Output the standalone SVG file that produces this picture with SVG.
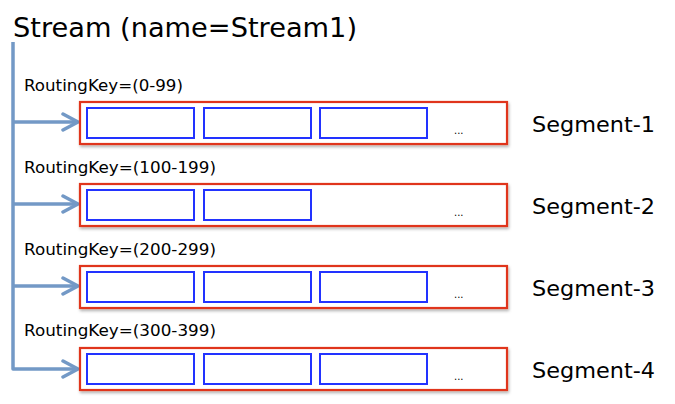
<svg xmlns="http://www.w3.org/2000/svg" width="675" height="404" viewBox="0 0 675 404">
<defs>
<filter id="sh" x="-5%" y="-20%" width="110%" height="150%">
<feDropShadow dx="1" dy="2" stdDeviation="1.5" flood-color="#000" flood-opacity="0.3"/>
</filter>
<marker id="ah" markerUnits="userSpaceOnUse" markerWidth="20" markerHeight="20" refX="17" refY="10" orient="auto" viewBox="0 0 20 20">
<polyline points="2,2 17,10 2,18" fill="none" stroke="#7399c6" stroke-width="3.5" stroke-linecap="round" stroke-linejoin="round"/>
</marker>
</defs>
<style>
.seg{fill:#fff;stroke:#e0341a;stroke-width:2.2}
.blk{fill:#fff;stroke:#2233ff;stroke-width:2}
.t{font-family:"DejaVu Sans","Liberation Sans",sans-serif;fill:#000}
.rk{font-size:15px}
.sl{font-size:22px}
.dots{font-size:10px}
.c{fill:none;stroke:#7399c6;stroke-width:3.5;stroke-linejoin:round}
</style>
<rect width="675" height="404" fill="#fff"/>
<g id="title"><text class="t" x="13" y="37" font-size="27" textLength="344" lengthAdjust="spacingAndGlyphs">Stream (name=Stream1)</text></g>
<g id="connectors">
<path class="c" d="M13,42 V369 H78" marker-end="url(#ah)"/>
<path class="c" d="M13,122 H78" marker-end="url(#ah)"/>
<path class="c" d="M13,204 H78" marker-end="url(#ah)"/>
<path class="c" d="M13,286 H78" marker-end="url(#ah)"/>
</g>
<g id="segment1">
<text class="t rk" x="24" y="91" textLength="159" lengthAdjust="spacingAndGlyphs">RoutingKey=(0-99)</text>
<rect class="seg" x="80" y="102" width="427" height="42" filter="url(#sh)"/>
<rect class="blk" x="87" y="108" width="107" height="30"/>
<rect class="blk" x="204" y="108" width="107" height="30"/>
<rect class="blk" x="320" y="108" width="107" height="30"/>
<text class="t dots" x="454" y="134">...</text>
<text class="t sl" x="532" y="132" textLength="123" lengthAdjust="spacingAndGlyphs">Segment-1</text>
</g>
<g id="segment2">
<text class="t rk" x="24" y="173" textLength="192" lengthAdjust="spacingAndGlyphs">RoutingKey=(100-199)</text>
<rect class="seg" x="80" y="184" width="427" height="42" filter="url(#sh)"/>
<rect class="blk" x="87" y="190" width="107" height="30"/>
<rect class="blk" x="204" y="190" width="107" height="30"/>
<text class="t dots" x="454" y="216">...</text>
<text class="t sl" x="532" y="214" textLength="123" lengthAdjust="spacingAndGlyphs">Segment-2</text>
</g>
<g id="segment3">
<text class="t rk" x="24" y="255" textLength="192" lengthAdjust="spacingAndGlyphs">RoutingKey=(200-299)</text>
<rect class="seg" x="80" y="266" width="427" height="42" filter="url(#sh)"/>
<rect class="blk" x="87" y="272" width="107" height="30"/>
<rect class="blk" x="204" y="272" width="107" height="30"/>
<rect class="blk" x="320" y="272" width="107" height="30"/>
<text class="t dots" x="454" y="298">...</text>
<text class="t sl" x="532" y="296" textLength="123" lengthAdjust="spacingAndGlyphs">Segment-3</text>
</g>
<g id="segment4">
<text class="t rk" x="24" y="336" textLength="192" lengthAdjust="spacingAndGlyphs">RoutingKey=(300-399)</text>
<rect class="seg" x="80" y="348" width="427" height="42" filter="url(#sh)"/>
<rect class="blk" x="87" y="354" width="107" height="30"/>
<rect class="blk" x="204" y="354" width="107" height="30"/>
<rect class="blk" x="320" y="354" width="107" height="30"/>
<text class="t dots" x="454" y="380">...</text>
<text class="t sl" x="532" y="378" textLength="123" lengthAdjust="spacingAndGlyphs">Segment-4</text>
</g>
</svg>
